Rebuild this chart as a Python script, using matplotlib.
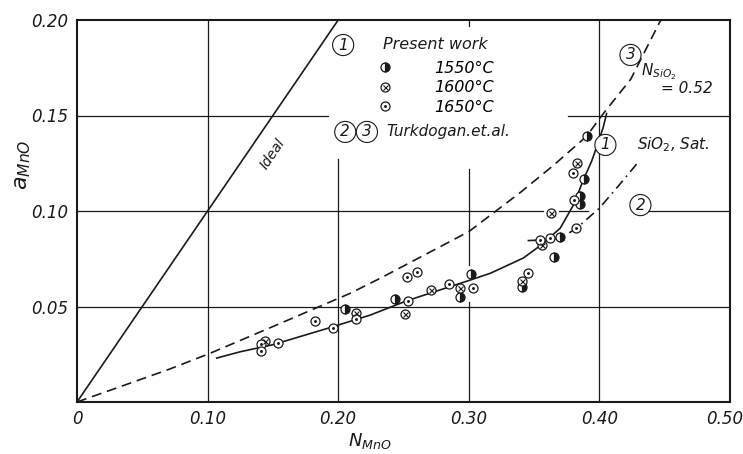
import matplotlib
matplotlib.use('Agg')
import matplotlib.pyplot as plt
import matplotlib.transforms as mtransforms

# Activity of MnO vs mole fraction of MnO
xticks = [0, 0.10, 0.20, 0.30, 0.40, 0.50]
xtick_labels = ['0', '0.10', '0.20', '0.30', '0.40', '0.50']
yticks = [0, 0.05, 0.10, 0.15, 0.20]
ytick_labels = ['', '0.05', '0.10', '0.15', '0.20']

# ideal line
ideal_x = [0, 0.2]
ideal_y = [0, 0.2]

# curve 1: present work, SiO2 saturated
c1_x = [0.107, 0.125, 0.15, 0.194, 0.2245, 0.2526, 0.30, 0.3165, 0.3418, 0.355,
        0.37, 0.38, 0.3877, 0.394, 0.399, 0.403, 0.4055]
c1_y = [0.023, 0.0263, 0.030, 0.039, 0.0455, 0.053, 0.0636, 0.0674, 0.0754, 0.082,
        0.091, 0.103, 0.1162, 0.126, 0.1356, 0.144, 0.151]

# curve 2: Turkdogan et al.
c2_x = [0.345, 0.355, 0.37, 0.3824, 0.40, 0.4184, 0.429]
c2_y = [0.0845, 0.0848, 0.0857, 0.0909, 0.1015, 0.1162, 0.125]

# curve 3: Turkdogan et al., N_SiO2 = 0.52
c3_x = [0, 0.033, 0.07, 0.1019, 0.15, 0.2092, 0.2322, 0.30, 0.34, 0.365, 0.39,
        0.403, 0.424, 0.447]
c3_y = [0, 0.008, 0.017, 0.0255, 0.0395, 0.0569, 0.0648, 0.0892, 0.110, 0.124, 0.139,
        0.151, 0.169, 0.200]

# measured points
x_1550 = [0.205, 0.2437, 0.293, 0.302, 0.3407, 0.365, 0.3696, 0.3854, 0.3854, 0.3885, 0.3906]
y_1550 = [0.0485, 0.0539, 0.0548, 0.0668, 0.0604, 0.0757, 0.0862, 0.1037, 0.1079, 0.1168, 0.1394]

x_1600 = [0.144, 0.214, 0.2513, 0.2713, 0.293, 0.3407, 0.356, 0.363, 0.3829]
y_1600 = [0.032, 0.0464, 0.0459, 0.0586, 0.0599, 0.0635, 0.0822, 0.0988, 0.125]

x_1650 = [0.1408, 0.141, 0.154, 0.182, 0.196, 0.214, 0.2526, 0.260, 0.2531, 0.2846,
          0.303, 0.345, 0.3548, 0.3619, 0.3824, 0.3798, 0.3808]
y_1650 = [0.0304, 0.0269, 0.031, 0.0424, 0.0389, 0.0436, 0.0656, 0.0679, 0.053, 0.0618,
          0.0595, 0.0674, 0.0848, 0.0857, 0.0909, 0.1197, 0.1058]

ink = '#1a1a1a'
fig = plt.figure(figsize=(7.43, 4.54), dpi=100)
ax = fig.add_axes([77 / 743, 52 / 454, 653 / 743, 382 / 454])
ax.set_xlim(0, 0.5)
ax.set_ylim(0, 0.2)

# broken grid lines, as in the drawing
gl = dict(color=ink, lw=0.9, zorder=1)
ax.axhline(0.05, **gl)
for a, b in [(0, 0.357), (0.369, 0.391), (0.433, 0.5)]:
    ax.axhline(0.10, a / 0.5, b / 0.5, **gl)
for a, b in [(0, 0.192), (0.376, 0.5)]:
    ax.axhline(0.15, a / 0.5, b / 0.5, **gl)
ax.axvline(0.10, **gl)
ax.axvline(0.20, 0, 0.127 / 0.2, **gl)
for a, b in [(0, 0.0525), (0.0717, 0.122), (0.197, 0.2)]:
    ax.axvline(0.30, a / 0.2, b / 0.2, **gl)
ax.axvline(0.40, **gl)

lw = 1.2
ax.plot(ideal_x, ideal_y, color=ink, lw=lw, zorder=2)
ax.plot(c1_x, c1_y, color=ink, lw=lw, zorder=2)
ax.plot(c2_x, c2_y, color=ink, lw=lw, dashes=(6, 3, 1, 3), zorder=2)
ax.plot(c3_x, c3_y, color=ink, lw=lw, dashes=(6, 3.5), zorder=2)

ms = 6.5
mew = 0.9
h1550, = ax.plot(x_1550, y_1550, ls='none', marker='o', ms=ms, mew=mew, mec=ink,
                 mfc=ink, fillstyle='right', markerfacecoloralt='white', zorder=4)
h1600a, = ax.plot(x_1600, y_1600, ls='none', marker='o', ms=ms, mew=mew, mec=ink,
                  mfc='white', zorder=4)
h1600b, = ax.plot(x_1600, y_1600, ls='none', marker='x', ms=3.6, mew=0.8, mec=ink, zorder=5)
h1650a, = ax.plot(x_1650, y_1650, ls='none', marker='o', ms=ms, mew=mew, mec=ink,
                  mfc='white', zorder=4)
h1650b, = ax.plot(x_1650, y_1650, ls='none', marker='.', ms=2.2, mec=ink, mfc=ink, zorder=5)

leg = ax.legend([h1550, (h1600a, h1600b), (h1650a, h1650b)],
                ['1550°C', '1600°C', '1650°C'],
                loc='upper left', bbox_to_anchor=(0.459, 0.893), frameon=False,
                borderpad=0, borderaxespad=0, handlelength=1.0, handletextpad=2.6,
                labelspacing=0.28, prop=dict(size=11.5, style='italic'))

# annotations
circ = dict(boxstyle='circle,pad=0.2', fc='white', ec=ink, lw=0.8)
tk = dict(color=ink, fontstyle='italic', va='center')
ax.text(0.2038, 0.1869, '1', fontsize=11, ha='center', bbox=circ, **tk)
ax.text(0.2345, 0.1870, 'Present work', fontsize=11.5, ha='left', **tk)
ax.text(0.2054, 0.1414, '2', fontsize=11, ha='center', bbox=circ, **tk)
ax.text(0.2220, 0.1414, '3', fontsize=11, ha='center', bbox=circ, **tk)
ax.text(0.2370, 0.1414, 'Turkdogan.et.al.', fontsize=11, ha='left', **tk)
ax.text(0.4238, 0.1817, '3', fontsize=11, ha='center', bbox=circ, **tk)
ax.text(0.4320, 0.1730, r'$N_{SiO_2}$', fontsize=11, ha='left', **tk)
ax.text(0.4470, 0.1640, '= 0.52', fontsize=11, ha='left', **tk)
ax.text(0.4046, 0.1346, '1', fontsize=11, ha='center', bbox=circ, **tk)
ax.text(0.4290, 0.1346, r'$SiO_2$, Sat.', fontsize=11, ha='left', **tk)
ax.text(0.4314, 0.1031, '2', fontsize=11, ha='center', bbox=circ, **tk)
ax.text(0.1500, 0.1300, 'Ideal', fontsize=10, ha='center', rotation=56,
        rotation_mode='anchor', **tk)

ax.set_xticks(xticks)
ax.set_xticklabels(xtick_labels, fontstyle='italic', fontsize=12)
ax.set_yticks(yticks)
ax.set_yticklabels(ytick_labels, fontstyle='italic', fontsize=12)
ax.tick_params(length=0, pad=6, colors=ink)
last = ax.get_xticklabels()[-1]
last.set_transform(last.get_transform() +
                   mtransforms.ScaledTranslation(-5 / 100, 0, fig.dpi_scale_trans))
for s in ax.spines.values():
    s.set_linewidth(1.5)
    s.set_color(ink)

ax.set_xlabel(r'$N_{MnO}$', fontsize=13, color=ink)
ax.xaxis.set_label_coords(0.449, -0.075)
ax.set_ylabel(r'$a_{MnO}$', fontsize=16, color=ink)
ax.yaxis.set_label_coords(-0.068, 0.62)

fig.savefig('out.png', dpi=100)
